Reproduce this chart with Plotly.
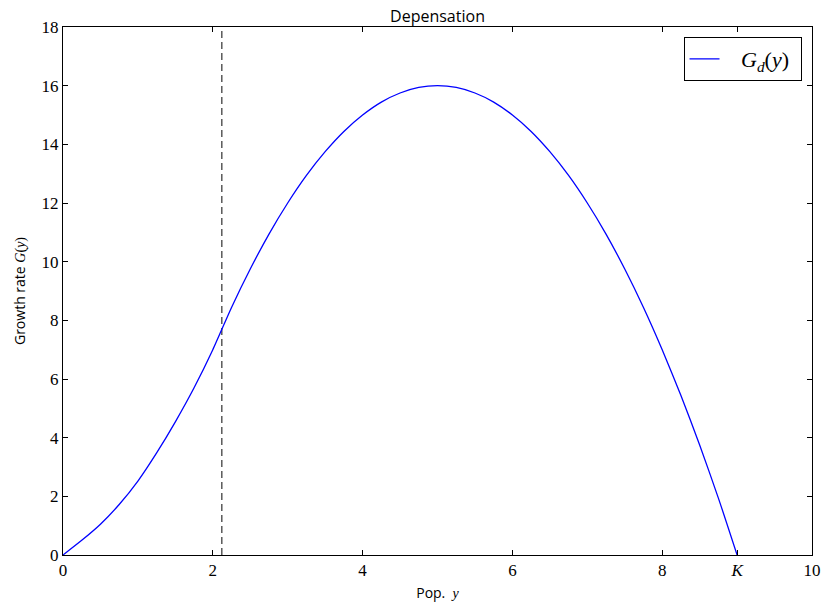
import plotly.graph_objects as go

# Population values and growth rate
pop = [0.0, 0.25, 0.5, 0.75, 1.0, 1.25, 1.5, 1.75, 2.0, 2.25, 2.5, 2.75,
       3.0, 3.25, 3.5, 3.75, 4.0, 4.25, 4.5, 4.75, 5.0, 5.25, 5.5, 5.75, 6.0,
       6.25, 6.5, 6.75, 7.0, 7.25, 7.5, 7.75, 8.0, 8.25, 8.5, 8.75, 9.0]
growth = [0.0, 0.5, 1.05, 1.72, 2.52, 3.48, 4.54, 5.7, 7.0, 8.44, 9.75, 10.94,
          12.0, 12.94, 13.75, 14.44, 15.0, 15.44, 15.75, 15.94, 16.0, 15.94, 15.75, 15.44, 15.0,
          14.44, 13.75, 12.94, 12.0, 10.94, 9.75, 8.44, 7.0, 5.44, 3.75, 1.94, 0.0]

threshold_x = 2.12
threshold_y = [0, 18]

xtick_vals = [0, 2, 4, 6, 8, 9, 10]
xtick_text = ["0", "2", "4", "6", "8", "<i>K</i>", "10"]
ytick_vals = [0, 2, 4, 6, 8, 10, 12, 14, 16, 18]

SERIF = "Liberation Serif, DejaVu Serif, serif"
SANS = "Open Sans, Lato, sans-serif"

fig = go.Figure()
fig.add_trace(go.Scatter(
    x=[threshold_x, threshold_x], y=threshold_y, mode="lines",
    line=dict(color="#5a5a5a", width=1.5, dash="7px,4px"),
    showlegend=False, hoverinfo="skip"))
fig.add_trace(go.Scatter(
    x=pop, y=growth, mode="lines",
    line=dict(color="#0000ff", width=1.3, shape="spline", smoothing=0.6),
    name="&nbsp;&nbsp;&nbsp;<i>G<sub>d</sub></i>(<i>y</i>)&nbsp;"))

axis_common = dict(
    showline=True, linecolor="black", linewidth=1, mirror="allticks",
    ticks="inside", ticklen=5, tickwidth=1, tickcolor="black",
    showgrid=False, zeroline=False, automargin=False,
    tickfont=dict(family=SERIF, size=17, color="black"),
)

fig.update_layout(
    width=823, height=606,
    margin=dict(l=63, r=11, t=27, b=51),
    paper_bgcolor="white", plot_bgcolor="white",
    title=dict(text="Depensation", x=0.5, xref="paper", xanchor="center",
               y=1, yref="paper", yanchor="bottom", pad=dict(b=5),
               font=dict(family=SANS, size=16, color="black"), automargin=False),
    xaxis=dict(range=[0, 10], tickvals=xtick_vals, ticktext=xtick_text,
               title=dict(text="Pop.  <span style=\"font-family:Liberation Serif\"><i>y</i></span>",
                          font=dict(family=SANS, size=14, color="black"), standoff=8),
               **axis_common),
    yaxis=dict(range=[0, 18], tickvals=ytick_vals,
               title=dict(text="Growth rate <span style=\"font-family:Liberation Serif\"><i>G</i>(<i>y</i>)</span>",
                          font=dict(family=SANS, size=14, color="black"), standoff=12),
               **axis_common),
    legend=dict(x=0.986, y=0.981, xanchor="right", yanchor="top",
                bgcolor="white", bordercolor="black", borderwidth=1,
                font=dict(family=SERIF, size=22, color="black"),
                itemwidth=30, tracegroupgap=0),
)

fig.write_html("out.html", config={"displayModeBar": False})

# remove the browser's default page margin so the figure sits at the top-left corner
with open("out.html", "r", encoding="utf-8") as f:
    html = f.read()
html = html.replace("<head>", "<head><style>html,body{margin:0;padding:0;overflow:hidden;}</style>", 1)
with open("out.html", "w", encoding="utf-8") as f:
    f.write(html)
